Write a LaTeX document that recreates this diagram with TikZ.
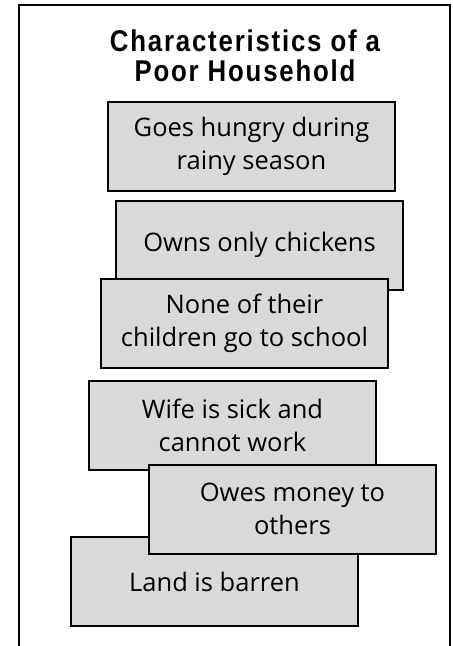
\documentclass[tikz,border=0pt]{standalone}
\usepackage{fontspec}
\setmainfont{Open Sans}
\newfontfamily\titlefont[FakeStretch=0.86,LetterSpace=6]{Liberation Sans}
\begin{document}
\begin{tikzpicture}[x=1pt,y=-1pt,
  trait/.style={draw=black,line width=2pt,fill=gray!30,
    minimum width=287pt,minimum height=89pt,inner sep=0pt,
    align=center,font=\fontsize{25.5}{33}\selectfont},
  heading/.style={align=center,inner sep=0pt,
    font=\titlefont\bfseries\fontsize{30}{30}\selectfont}]
\useasboundingbox (0,0) rectangle (453,646);
\clip (0,0) rectangle (453,646);
% open-bottomed frame
\draw[line width=2.4pt] (19,660) -- (19,5) -- (450,5) -- (450,660);
\node[heading] (title) at (245,56) {Characteristics of a\\Poor Household};
% stacked characteristics, later boxes drawn over earlier ones
\node[trait] (hungry)   at (251.5,146)   {Goes hungry during\\rainy season};
\node[trait] (chickens) at (259.5,245)   {Owns only chickens};
\node[trait] (school)   at (244.5,323.5) {None of their\\children go to school};
\node[trait] (wife)     at (232.5,425.5) {Wife is sick and\\cannot work};
\node[trait] (land)     at (214.5,581.5) {Land is barren};
\node[trait] (money)    at (292.5,509)   {Owes money to\\others};
\end{tikzpicture}
\end{document}
